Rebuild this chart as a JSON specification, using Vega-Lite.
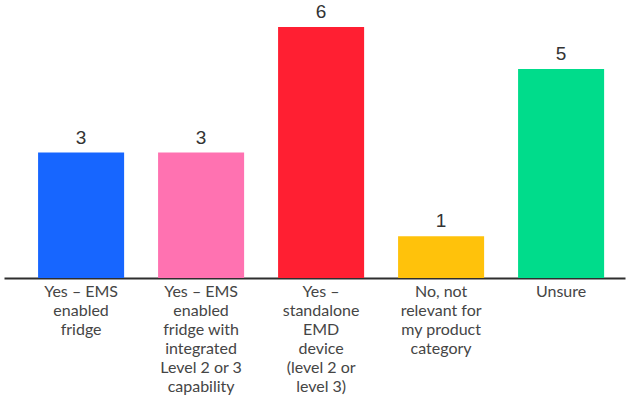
{
  "$schema": "https://vega.github.io/schema/vega-lite/v6.json",
  "width": 621,
  "height": 276,
  "padding": {"left": 4, "top": 2, "right": 13, "bottom": 119},
  "autosize": {"type": "none"},
  "background": "white",
  "config": {"view": {"stroke": null}, "font": "Lato"},
  "data": {
    "values": [
      {"category": "Yes – EMS|enabled|fridge", "value": 3, "color": "#1766FF"},
      {"category": "Yes – EMS|enabled|fridge with|integrated|Level 2 or 3|capability", "value": 3, "color": "#FF72B1"},
      {"category": "Yes –|standalone|EMD|device|(level 2 or|level 3)", "value": 6, "color": "#FF1F32"},
      {"category": "No, not|relevant for|my product|category", "value": 1, "color": "#FFC20B"},
      {"category": "Unsure", "value": 5, "color": "#00DC8B"}
    ]
  },
  "encoding": {
    "x": {
      "field": "category",
      "type": "nominal",
      "sort": null,
      "scale": {"paddingInner": 0.283, "paddingOuter": 0.229, "align": 0.62},
      "axis": {
        "title": null,
        "labelAngle": 0,
        "labelExpr": "split(datum.value, '|')",
        "labelFontSize": 16,
        "labelLineHeight": 19,
        "labelColor": "#454545",
        "labelPadding": 5,
        "ticks": false,
        "domainColor": "#2e2e2e",
        "domainWidth": 2,
        "labelLimit": 200
      }
    },
    "y": {
      "field": "value",
      "type": "quantitative",
      "scale": {"domain": [0, 6.6]},
      "axis": null
    }
  },
  "layer": [
    {
      "mark": {"type": "bar"},
      "encoding": {
        "color": {"field": "color", "type": "nominal", "scale": null}
      }
    },
    {
      "mark": {"type": "text", "baseline": "bottom", "dy": -5, "fontSize": 19, "font": "Liberation Sans", "color": "#333333"},
      "encoding": {"text": {"field": "value", "type": "quantitative"}}
    }
  ]
}
